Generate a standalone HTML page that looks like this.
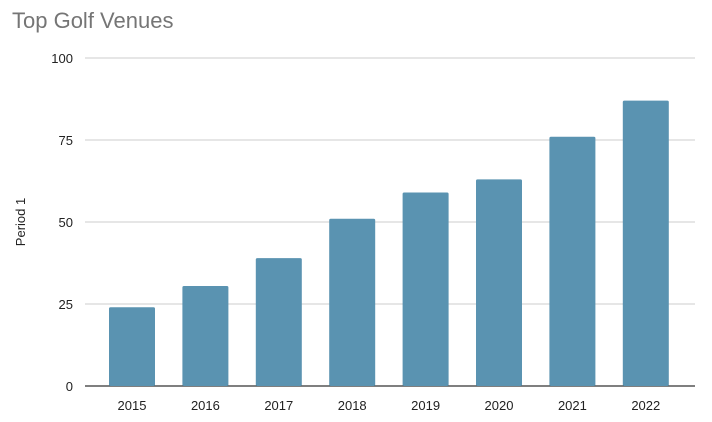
<!DOCTYPE html>
<html><head><meta charset="utf-8"><style>
body{margin:0;background:#fff;font-family:"Liberation Sans",Arial,sans-serif}
</style></head><body>
<svg width="712" height="417" xmlns="http://www.w3.org/2000/svg">
<text x="12" y="28" font-size="22" fill="#757575">Top Golf Venues</text>
<text transform="translate(25,222) rotate(-90)" text-anchor="middle" font-size="13" fill="#222">Period 1</text>
<g id="grid"></g><g id="bars"></g><g id="xl"></g>
</svg>
<script>
const categories=["2015","2016","2017","2018","2019","2020","2021","2022"];
const values=[24,30.5,39,51,59,63,76,87];
const ticks=[0,25,50,75,100];
const ns="http://www.w3.org/2000/svg";
const y0=386,y1=58,left=85,right=695,bandStart=95.3,band=73.4,bw=46;
const y=v=>y0-(v/100)*(y0-y1);
const x=i=>bandStart+band*i+band/2;
const g=document.getElementById('grid'),b=document.getElementById('bars'),xl=document.getElementById('xl');
ticks.forEach(t=>{
 const l=document.createElementNS(ns,'line');
 
 
 l.setAttribute('x1',left);l.setAttribute('x2',right);l.setAttribute('y1',y(t));l.setAttribute('y2',y(t));
 l.setAttribute('stroke',t===0?'#333':'#ccc');l.setAttribute('stroke-width',t===0?1.3:1);
 g.appendChild(l);
 const tx=document.createElementNS(ns,'text');
 
 
 tx.setAttribute('x',73);tx.setAttribute('y',y(t)+5);tx.setAttribute('text-anchor','end');
 tx.setAttribute('font-size','13');tx.setAttribute('fill','#222');tx.textContent=t;
 g.appendChild(tx);
});
values.forEach((v,i)=>{
 const r=document.createElementNS(ns,'rect');
 
 
 r.setAttribute('x',x(i)-bw/2);r.setAttribute('width',bw);
 r.setAttribute('y',y(v));r.setAttribute('height',y0-y(v));
 r.setAttribute('fill','#5a93b1');r.setAttribute('rx','1.5');
 b.appendChild(r);
 const tx=document.createElementNS(ns,'text');
 
 
 tx.setAttribute('x',x(i));tx.setAttribute('y',410);tx.setAttribute('text-anchor','middle');
 tx.setAttribute('font-size','13');tx.setAttribute('fill','#222');tx.textContent=categories[i];
 xl.appendChild(tx);
});
</script>
</body></html>
